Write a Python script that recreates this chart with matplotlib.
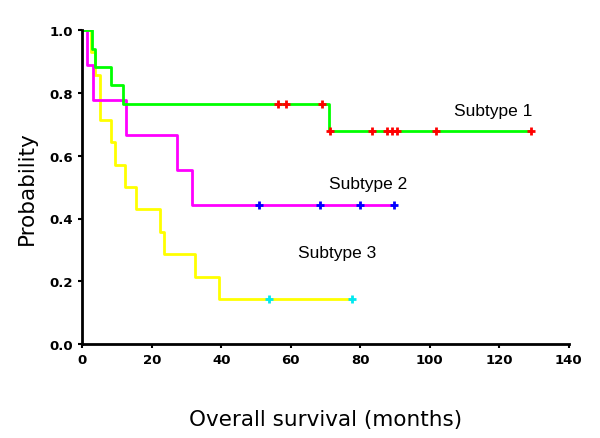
import numpy as np
import matplotlib
matplotlib.use("Agg")
import matplotlib.pyplot as plt

# Kaplan-Meier steps (months, survival probability)
s1_t = [0, 2.8, 3.8, 8.3, 11.7, 71.0, 129.2]
s1_p = [1.0, 0.941, 0.882, 0.824, 0.765, 0.68, 0.68]
s1_cens = [56.4, 58.6, 68.9, 71.3, 83.3, 87.6, 89.2, 90.7, 101.9, 129.2]

s2_t = [0, 1.35, 3.2, 12.6, 27.2, 31.6, 89.7]
s2_p = [1.0, 0.889, 0.778, 0.667, 0.556, 0.444, 0.444]
s2_cens = [51.0, 68.5, 79.9, 89.7]

s3_t = [0, 2.6, 3.7, 5.2, 8.3, 9.5, 12.4, 15.5, 22.4, 23.6, 32.5, 39.4, 77.6]
s3_p = [1.0, 0.929, 0.857, 0.714, 0.643, 0.571, 0.5, 0.429, 0.357, 0.286, 0.214, 0.143, 0.143]
s3_cens = [53.8, 77.6]

labels = ["Subtype 1", "Subtype 2", "Subtype 3"]
label_pos = [(107, 0.745), (71, 0.51), (62, 0.293)]


def step_value(ts, ps, t):
    # survival value at time t for a right-continuous step curve
    i = np.searchsorted(ts, t, side="right") - 1
    return ps[i]


fig = plt.figure(figsize=(6, 4.39), dpi=100)
ax = fig.add_axes([0.137, 0.214, 0.811, 0.715])

curves = [
    (s3_t, s3_p, s3_cens, "#ffff00", "#00e8f0"),
    (s2_t, s2_p, s2_cens, "#ff00ff", "#0000ff"),
    (s1_t, s1_p, s1_cens, "#00ff00", "#ff0000"),
]
for ts, ps, cens, lc, mc in curves:
    ax.step(ts, ps, where="post", color=lc, lw=2, zorder=2)
    cy = [step_value(ts, ps, c) for c in cens]
    ax.plot(cens, cy, ls="none", marker="+", ms=6, mew=2, color=mc, zorder=3)

for lab, (x, y) in zip(labels, label_pos):
    ax.text(x, y, lab, fontsize=12.5, family="Liberation Sans", ha="left", va="center")

ax.set_xlim(0, 140)
ax.set_ylim(0, 1.0)
ax.set_xticks(np.arange(0, 141, 20))
ax.set_yticks(np.arange(0, 1.01, 0.2))
ax.set_yticklabels(["%.1f" % v for v in np.arange(0, 1.01, 0.2)])
for lab in ax.get_xticklabels() + ax.get_yticklabels():
    lab.set_fontweight("bold")
    lab.set_fontsize(9.5)
ax.tick_params(direction="out", length=3, width=1.5)

ax.spines["top"].set_visible(False)
ax.spines["right"].set_visible(False)
ax.spines["left"].set_linewidth(2)
ax.spines["bottom"].set_linewidth(2)

ax.set_xlabel("Overall survival (months)", fontsize=15.5, labelpad=31)
ax.set_ylabel("Probability", fontsize=15.5, labelpad=9)

fig.savefig("out.png", dpi=100)
